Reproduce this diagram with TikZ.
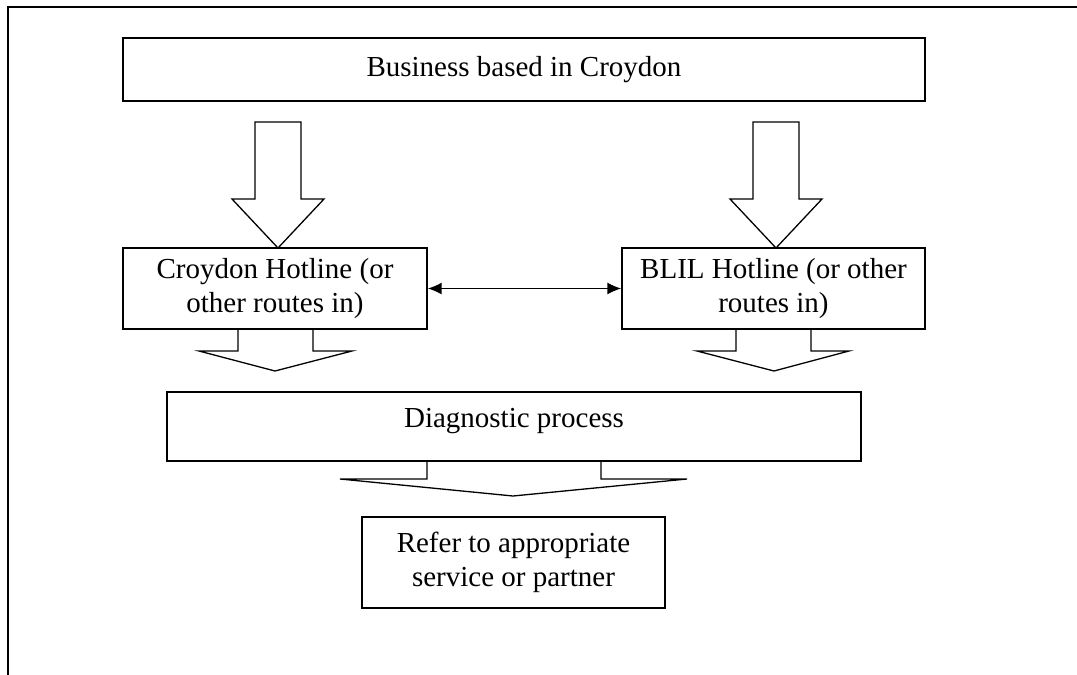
\documentclass[tikz,border=0pt]{standalone}
\usepackage{fontspec}
\setmainfont{Liberation Serif}
\usetikzlibrary{arrows.meta}
\begin{document}
\begin{tikzpicture}[x=1pt,y=-1pt,line width=1.3pt,line join=miter,
  box/.style={draw,rectangle,inner sep=0pt,align=center,
    font=\fontsize{29}{34}\selectfont},
  txt/.style={inner sep=0pt,align=center,font=\fontsize{29}{34}\selectfont},
  blockarrow/.style={draw,line width=1.3pt},
  link/.style={draw,line width=1.6pt,{Latex[length=14pt,width=12pt]}-{Latex[length=14pt,width=12pt]}}]
\useasboundingbox (0,0) rectangle (1077,675);
% frame (top and left edges visible)
\coordinate (frTR) at (1077,7);
\coordinate (frTL) at (8,7);
\coordinate (frBL) at (8,675);
\draw[line width=1.7pt] (frTR) -- (frTL) -- (frBL);
% boxes
\node[box,minimum width=802,minimum height=63] (top) at (524,69.5) {Business based in Croydon};
\node[box,minimum width=304,minimum height=81] (croy) at (275,288.5) {Croydon Hotline (or\\other routes in)};
\node[box,minimum width=303,minimum height=81] (blil) at (773.5,288.5) {BLIL Hotline (or other\\routes in)};
\node[box,minimum width=694,minimum height=69] (diag) at (514,426.5) {};
\node[txt] (diagtxt) at (514,421) {Diagnostic process};
\node[box,minimum width=303,minimum height=91] (refer) at (513.5,562.5) {Refer to appropriate\\service or partner};
% double-headed connector
\draw[link] (croy.east) -- (blil.west);
% block arrows from top box
\draw[blockarrow] (255,122) -- (301,122) -- (301,199) -- (324,199) -- (278,248) -- (232,199) -- (255,199) -- cycle;
\draw[blockarrow] (753,122) -- (799,122) -- (799,199) -- (822,199) -- (776,248) -- (730,199) -- (753,199) -- cycle;
% open block arrows below hotline boxes
\draw[blockarrow] (238,329) -- (238,351) -- (199,351) -- (275,371) -- (352,351) -- (313,351) -- (313,329);
\draw[blockarrow] (736,329) -- (736,351) -- (697,351) -- (774,371) -- (849,351) -- (811,351) -- (811,329);
% open block arrow below diagnostic box
\draw[blockarrow] (427,461) -- (427,479) -- (340,479) -- (513,496) -- (687,479) -- (601,479) -- (601,461);
\end{tikzpicture}
\end{document}
